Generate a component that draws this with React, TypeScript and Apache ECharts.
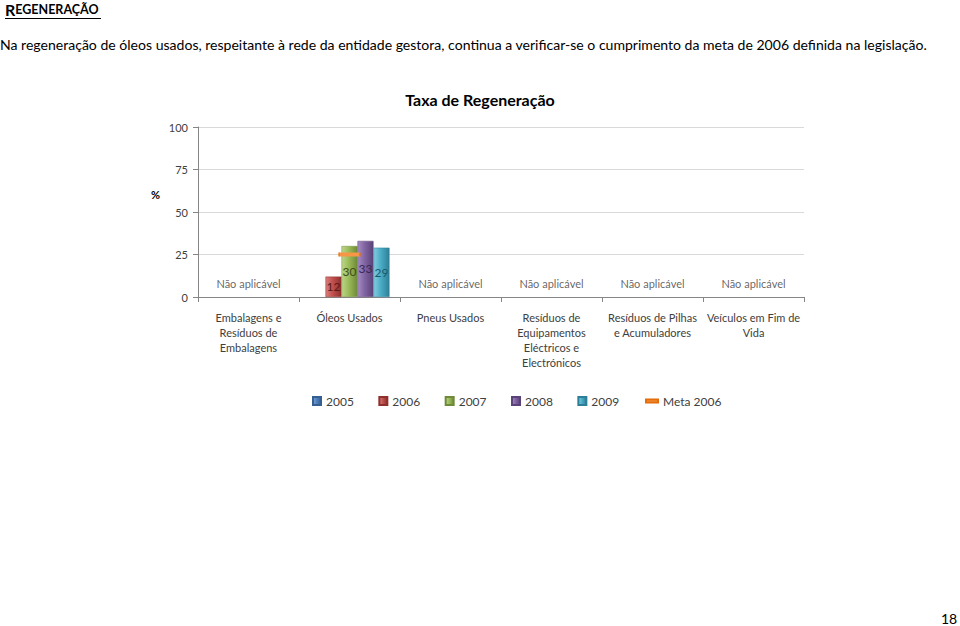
import React, { useEffect, useRef } from "react";
import * as echarts from "echarts";

const categories = [
  "Embalagens e\nResíduos de\nEmbalagens",
  "Óleos Usados",
  "Pneus Usados",
  "Resíduos de\nEquipamentos\nEléctricos e\nElectrónicos",
  "Resíduos de Pilhas\ne Acumuladores",
  "Veículos em Fim de\nVida",
];
const years = ["2005", "2006", "2007", "2008", "2009"];
const values2005: (number | null)[] = [null, null, null, null, null, null];
const values2006: (number | null)[] = [null, 12, null, null, null, null];
const values2007: (number | null)[] = [null, 30, null, null, null, null];
const values2008: (number | null)[] = [null, 33, null, null, null, null];
const values2009: (number | null)[] = [null, 29, null, null, null, null];
const meta2006: (number | null)[] = [null, 25, null, null, null, null];
const notApplicable: (number | null)[] = [8, null, 8, 8, 8, 8];
const yTicks = [0, 25, 50, 75, 100];

const FONT = "Lato";

const palette = [
  { base: "#4F81BD", light: "#7FA4D3", dark: "#365F91", text: "#1F3B60" },
  { base: "#C0504D", light: "#D97E7B", dark: "#8E302D", text: "#5A1A18" },
  { base: "#9BBB59", light: "#BDD68A", dark: "#6F8A39", text: "#3D4F1A" },
  { base: "#8064A2", light: "#A58DC2", dark: "#5A4378", text: "#3B2756" },
  { base: "#4BACC6", light: "#84CCDE", dark: "#2C7F96", text: "#1C5A6B" },
];

export default function App() {
  const ref = useRef<HTMLDivElement>(null);
  useEffect(() => {
    if (!ref.current) return;
    const chart = echarts.init(ref.current, null, { renderer: "svg" });
    const allValues = [values2005, values2006, values2007, values2008, values2009];
    const barSeries = years.map((y, i) => ({
      name: y,
      type: "bar",
      data: allValues[i],
      barWidth: 16,
      barGap: "0%",
      itemStyle: {
        color: new echarts.graphic.LinearGradient(0, 0, 1, 0, [
          { offset: 0, color: palette[i].light },
          { offset: 0.45, color: palette[i].base },
          { offset: 1, color: palette[i].dark },
        ]),
        borderColor: palette[i].dark,
        borderWidth: 0.5,
      },
      label: {
        show: true,
        position: "inside",
        color: palette[i].text,
        fontFamily: FONT,
        fontSize: 12,
      },
    }));
    chart.setOption({
      animation: false,
      backgroundColor: "#ffffff",
      textStyle: { fontFamily: FONT },
      grid: { left: 198, right: 156, top: 127, bottom: 329 },
      xAxis: {
        type: "category",
        data: categories,
        axisLine: { show: true, lineStyle: { color: "#868686", width: 1 } },
        axisTick: { show: true, length: 5, lineStyle: { color: "#868686" } },
        axisLabel: {
          interval: 0,
          fontFamily: FONT,
          fontSize: 11,
          color: "#404040",
          lineHeight: 15,
          margin: 13,
        },
      },
      yAxis: {
        type: "value",
        min: 0,
        max: 100,
        interval: 25,
        axisLine: { show: true, lineStyle: { color: "#868686", width: 1 } },
        axisTick: { show: true, length: 5, lineStyle: { color: "#868686" } },
        axisLabel: {
          fontFamily: FONT,
          fontSize: 11,
          color: "#404040",
          margin: 10,
          formatter: (v: number) => (yTicks.includes(v) ? String(v) : ""),
        },
        splitLine: { show: true, lineStyle: { color: "#D9D9D9", width: 1 } },
      },
      legend: [
        {
          data: years,
          left: 307,
          top: 390,
          icon: "rect",
          itemWidth: 8,
          itemHeight: 8,
          itemGap: 24.5,
          textStyle: { fontFamily: FONT, fontSize: 12, color: "#404040" },
        },
        {
          data: ["Meta 2006"],
          left: 640,
          top: 390,
          icon: "rect",
          itemWidth: 12,
          itemHeight: 3,
          textStyle: { fontFamily: FONT, fontSize: 12, color: "#404040" },
        },
      ],
      series: [
        ...barSeries,
        {
          name: "Meta 2006",
          type: "line",
          data: meta2006,
          color: "#F79646",
          lineStyle: { width: 0 },
          symbol: "rect",
          symbolSize: [21, 4],
          itemStyle: { color: "#F79646", borderColor: "#E46C0A", borderWidth: 0.5 },
          z: 5,
        },
        {
          name: "na",
          type: "scatter",
          data: notApplicable,
          symbolSize: 0,
          label: {
            show: true,
            position: "inside",
            formatter: () => "Não aplicável",
            fontFamily: FONT,
            fontSize: 11,
            color: "#404040",
          },
          silent: true,
        },
      ],
      graphic: [
        {
          type: "text",
          left: 5,
          top: 1,
          style: {
            text: "{b|R}{s|EGENERAÇÃO}",
            rich: {
              b: { fontFamily: FONT, fontSize: 16, fontWeight: "bold", fill: "#000" },
              s: { fontFamily: FONT, fontSize: 12.5, fontWeight: "bold", fill: "#000" },
            },
          },
        },
        {
          type: "line",
          shape: { x1: 5, y1: 18.5, x2: 101, y2: 18.5 },
          style: { stroke: "#000", lineWidth: 1 },
        },
        {
          type: "text",
          left: 0,
          top: 37,
          style: {
            text: "Na regeneração de óleos usados, respeitante à rede da entidade gestora, continua a verificar-se o cumprimento da meta de 2006 definida na legislação.",
            fontFamily: FONT,
            fontSize: 14.05,
            fill: "#000",
          },
        },
        {
          type: "text",
          left: 941,
          top: 611,
          style: { text: "18", fontFamily: FONT, fontSize: 14, fill: "#000" },
        },
        {
          type: "text",
          left: "center",
          top: 91,
          style: {
            text: "Taxa de Regeneração",
            fontFamily: FONT,
            fontSize: 16,
            fontWeight: "bold",
            fill: "#000",
          },
        },
        {
          type: "text",
          left: 151,
          top: 189,
          style: { text: "%", fontFamily: FONT, fontSize: 11, fontWeight: "bold", fill: "#000" },
        },
      ],
    });
    return () => chart.dispose();
  }, []);
  return (
    <div
      ref={ref}
      style={{ position: "absolute", left: 0, top: 0, width: 960, height: 626 }}
    />
  );
}
